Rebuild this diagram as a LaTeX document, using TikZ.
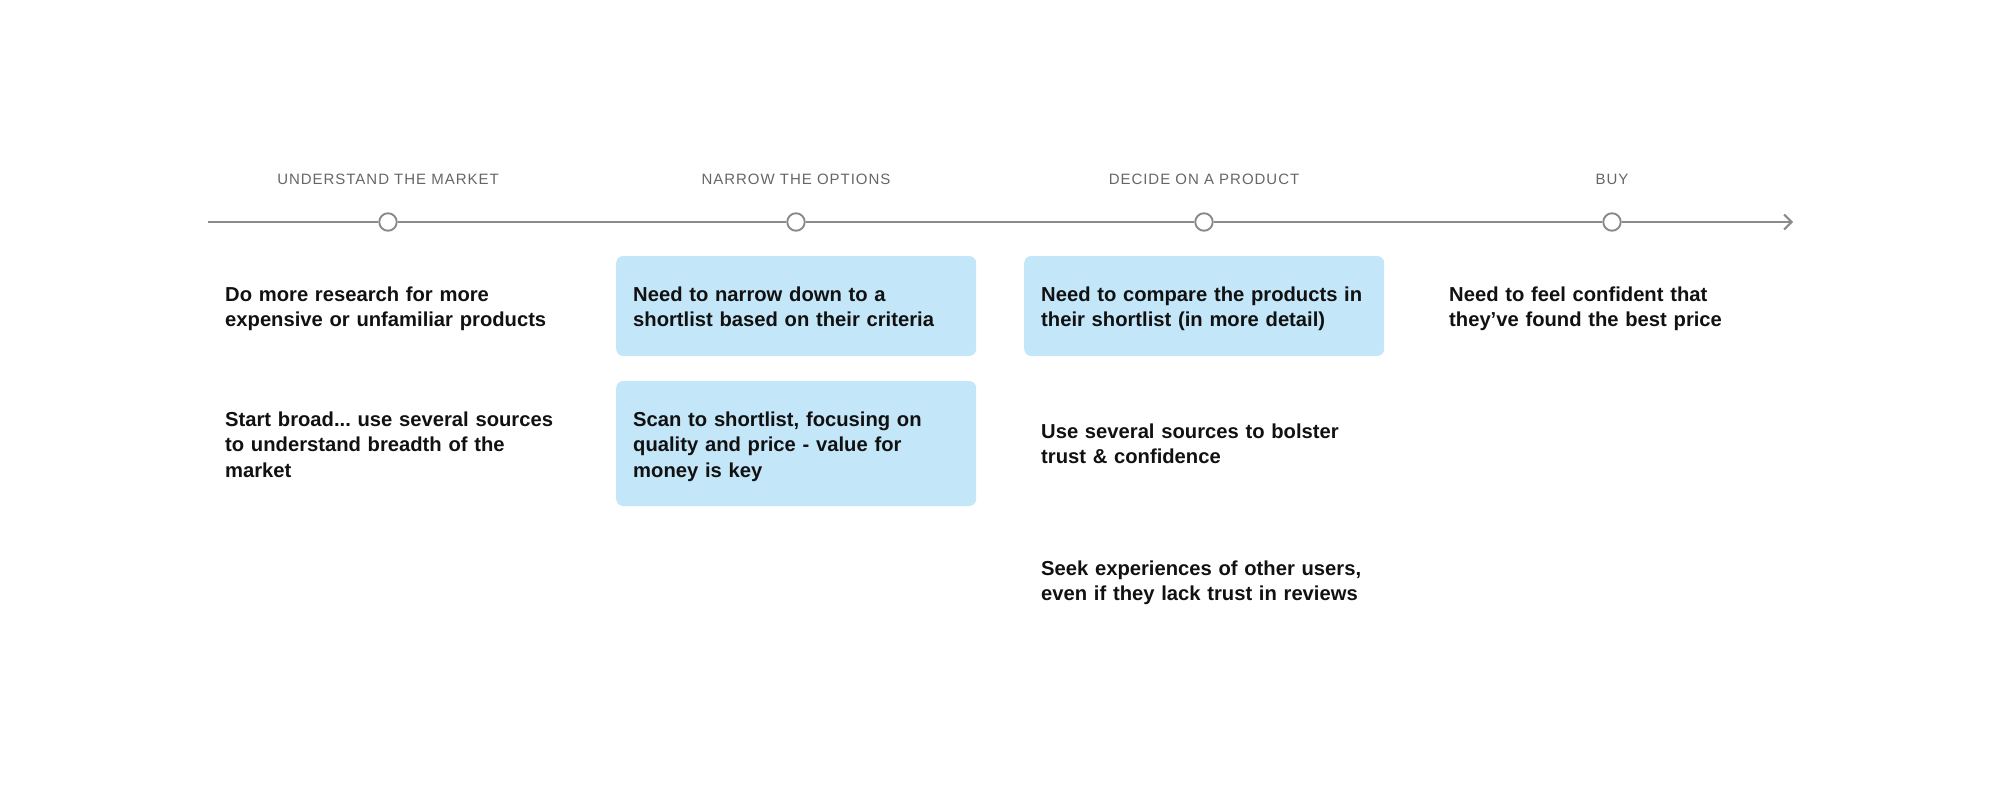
\documentclass[tikz,border=0pt]{standalone}
\usepackage{fontspec}
\setmainfont{Liberation Sans}
\newfontfamily\hdrfont[LetterSpace=6.5]{Liberation Sans}
\usetikzlibrary{arrows.meta}
\frenchspacing
\definecolor{linegray}{HTML}{8A8A8A}
\definecolor{hdrgray}{HTML}{666666}
\definecolor{boxblue}{HTML}{C3E6F8}
\definecolor{ink}{HTML}{111111}
\tikzset{
  hdr/.style={anchor=base, inner sep=0pt, text=hdrgray, font=\hdrfont\fontsize{15}{18}\selectfont},
  milestone/.style={circle, draw=linegray, line width=1.9pt, fill=white, minimum size=17.5pt, inner sep=0pt},
  tline/.style={draw=linegray, line width=2pt},
  note/.style={anchor=base west, inner sep=0pt, text width=340pt, align=left, text=ink, font=\bfseries\fontsize{20.2}{25.5}\selectfont},
  bluebox/.style={anchor=base west, fill=boxblue, rounded corners=7pt, inner xsep=17pt, inner ysep=0pt,
    text width=326pt, align=left, text height=45pt, text=ink, font=\bfseries\fontsize{20.2}{25.5}\selectfont},
}
\begin{document}
\begin{tikzpicture}[x=1pt,y=-1pt]
\useasboundingbox (0,0) rectangle (2000,800);
% timeline
\coordinate (tstart) at (208,222);
\coordinate (tend) at (1793,222);
\node[milestone] (m1) at (388,222) {};
\node[milestone] (m2) at (796,222) {};
\node[milestone] (m3) at (1204,222) {};
\node[milestone] (m4) at (1612,222) {};
\draw[tline] (tstart) -- (m1);
\draw[tline] (m1) -- (m2);
\draw[tline] (m2) -- (m3);
\draw[tline] (m3) -- (m4);
\draw[tline, -{Straight Barb[length=7.5pt,width=15pt,line width=2pt]}] (m4) -- (tend);
% headers
\node[hdr] (h1) at (388,184) {UNDERSTAND THE MARKET};
\node[hdr] (h2) at (796,184) {NARROW THE OPTIONS};
\node[hdr] (h3) at (1204,184) {DECIDE ON A PRODUCT};
\node[hdr] (h4) at (1612,184) {BUY};
% column 1
\node[note] (c1a) at (225,301) {Do more research for more\\expensive or unfamiliar products};
\node[note] (c1b) at (225,426) {Start broad... use several sources\\to understand breadth of the\\market};
% column 2
\node[bluebox, text depth=55pt] (c2a) at (616,301) {\mbox{Need to narrow down to a}\\\mbox{shortlist based on their criteria}};
\node[bluebox, text depth=80pt] (c2b) at (616,426) {\mbox{Scan to shortlist, focusing on}\\\mbox{quality and price - value for}\\\mbox{money is key}};
% column 3
\node[bluebox, text depth=55pt] (c3a) at (1024,301) {\mbox{Need to compare the products in}\\\mbox{their shortlist (in more detail)}};
\node[note] (c3b) at (1041,438) {Use several sources to bolster\\trust \& confidence};
\node[note] (c3c) at (1041,575) {Seek experiences of other users,\\even if they lack trust in reviews};
% column 4
\node[note] (c4a) at (1449,301) {Need to feel confident that\\they’ve found the best price};
\end{tikzpicture}
\end{document}
